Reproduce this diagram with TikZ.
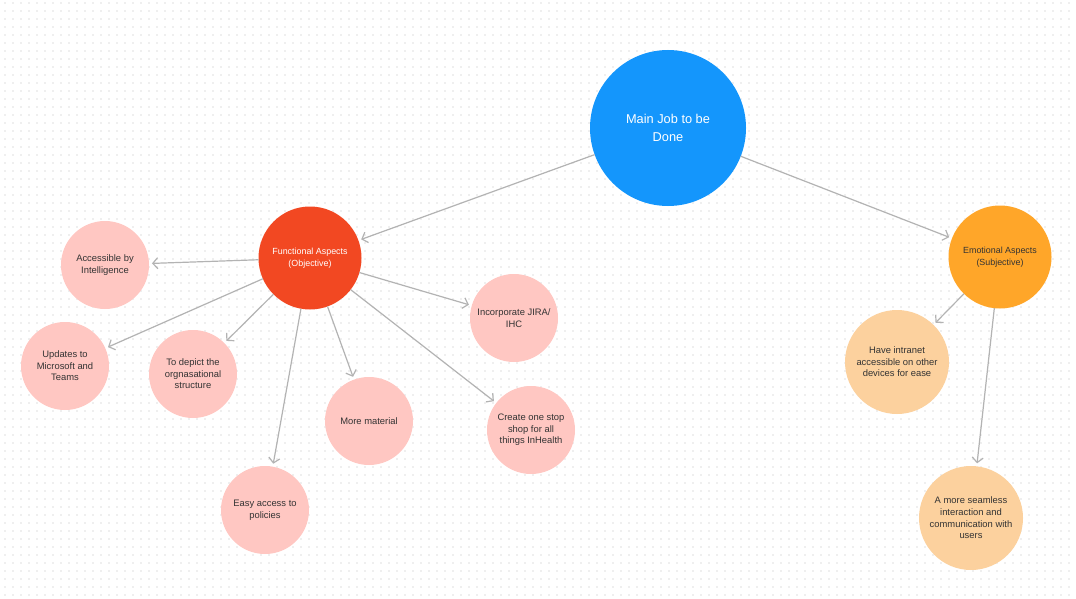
\documentclass[tikz,border=0pt]{standalone}
\usepackage{fontspec}
\setmainfont{Liberation Sans}
\usepackage{tikz}
\usetikzlibrary{arrows.meta,positioning}
\definecolor{mainblue}{HTML}{1496FC}
\definecolor{funcred}{HTML}{F24822}
\definecolor{funcpink}{HTML}{FFC7C2}
\definecolor{emoorange}{HTML}{FFA629}
\definecolor{emopeach}{HTML}{FCD19E}
\definecolor{linkgray}{HTML}{B3B3B3}
\definecolor{dotgray}{HTML}{EFEFEF}
\definecolor{textdark}{HTML}{333333}

\begin{document}
\begin{tikzpicture}[x=1pt,y=-1pt,
  bubble/.style={circle,inner sep=0pt,outer sep=0pt,align=center,text=textdark,font=\fontsize{9.4}{11.6}\selectfont},
  jobbubble/.style={bubble,fill=mainblue,minimum size=156pt,text=white,font=\fontsize{12.8}{17.7}\selectfont},
  funcbubble/.style={bubble,fill=funcred,minimum size=103pt,text=white,font=\fontsize{8.9}{11.7}\selectfont},
  emobubble/.style={bubble,fill=emoorange,minimum size=103pt,font=\fontsize{8.9}{11.7}\selectfont},
  pinkbubble/.style={bubble,fill=funcpink,minimum size=88pt},
  peachbubble/.style={bubble,fill=emopeach,minimum size=104pt},
  link/.style={draw=linkgray,line width=1.2pt,shorten >=3pt,-{Straight Barb[length=5pt,width=11pt]}}]
\useasboundingbox (0,0) rectangle (1076,599);
\fill[white] (0,0) rectangle (1076,599);
% dot grid
\foreach \j in {0,...,74}
  \draw[dotgray,line width=1.6pt,dash pattern=on 1.6pt off 6.4pt] (4,\j*8+2.8) -- (1076,\j*8+2.8);

\node[jobbubble] (job) at (668,128) {Main Job to be\\Done};
\node[funcbubble] (func) at (310,258) {Functional Aspects\\(Objective)};
\node[emobubble] (emo) at (1000,257) {Emotional Aspects\\(Subjective)};

% functional side
\node[pinkbubble] (access) at (105,265) {Accessible by\\Intelligence};
\node[pinkbubble] (updates) at (65,366) {Updates to\\Microsoft and\\Teams};
\node[pinkbubble] (depict) at (193,374) {To depict the\\orgnasational\\structure};
\node[pinkbubble] (policies) at (265,510) {Easy access to\\policies};
\node[pinkbubble] (material) at (369,421) {More material};
\node[pinkbubble] (onestop) at (531,430) {Create one stop\\shop for all\\things InHealth};
\node[pinkbubble] (jira) at (514,318) {Incorporate JIRA/\\IHC};

% emotional side
\node[peachbubble] (intranet) at (897,362) {Have intranet\\accessible on other\\devices for ease};
\node[peachbubble] (seamless) at (971,518) {A more seamless\\interaction and\\communication with\\users};

\draw[link] (job) -- (func);
\draw[link] (job) -- (emo);
\draw[link] (func) -- (access);
\draw[link] (func) -- (updates);
\draw[link] (func) -- (depict);
\draw[link] (func) -- (policies);
\draw[link] (func) -- (material);
\draw[link] (func) -- (onestop);
\draw[link] (func) -- (jira);
\draw[link] (emo) -- (intranet);
\draw[link] (emo) -- (seamless);
\end{tikzpicture}
\end{document}
